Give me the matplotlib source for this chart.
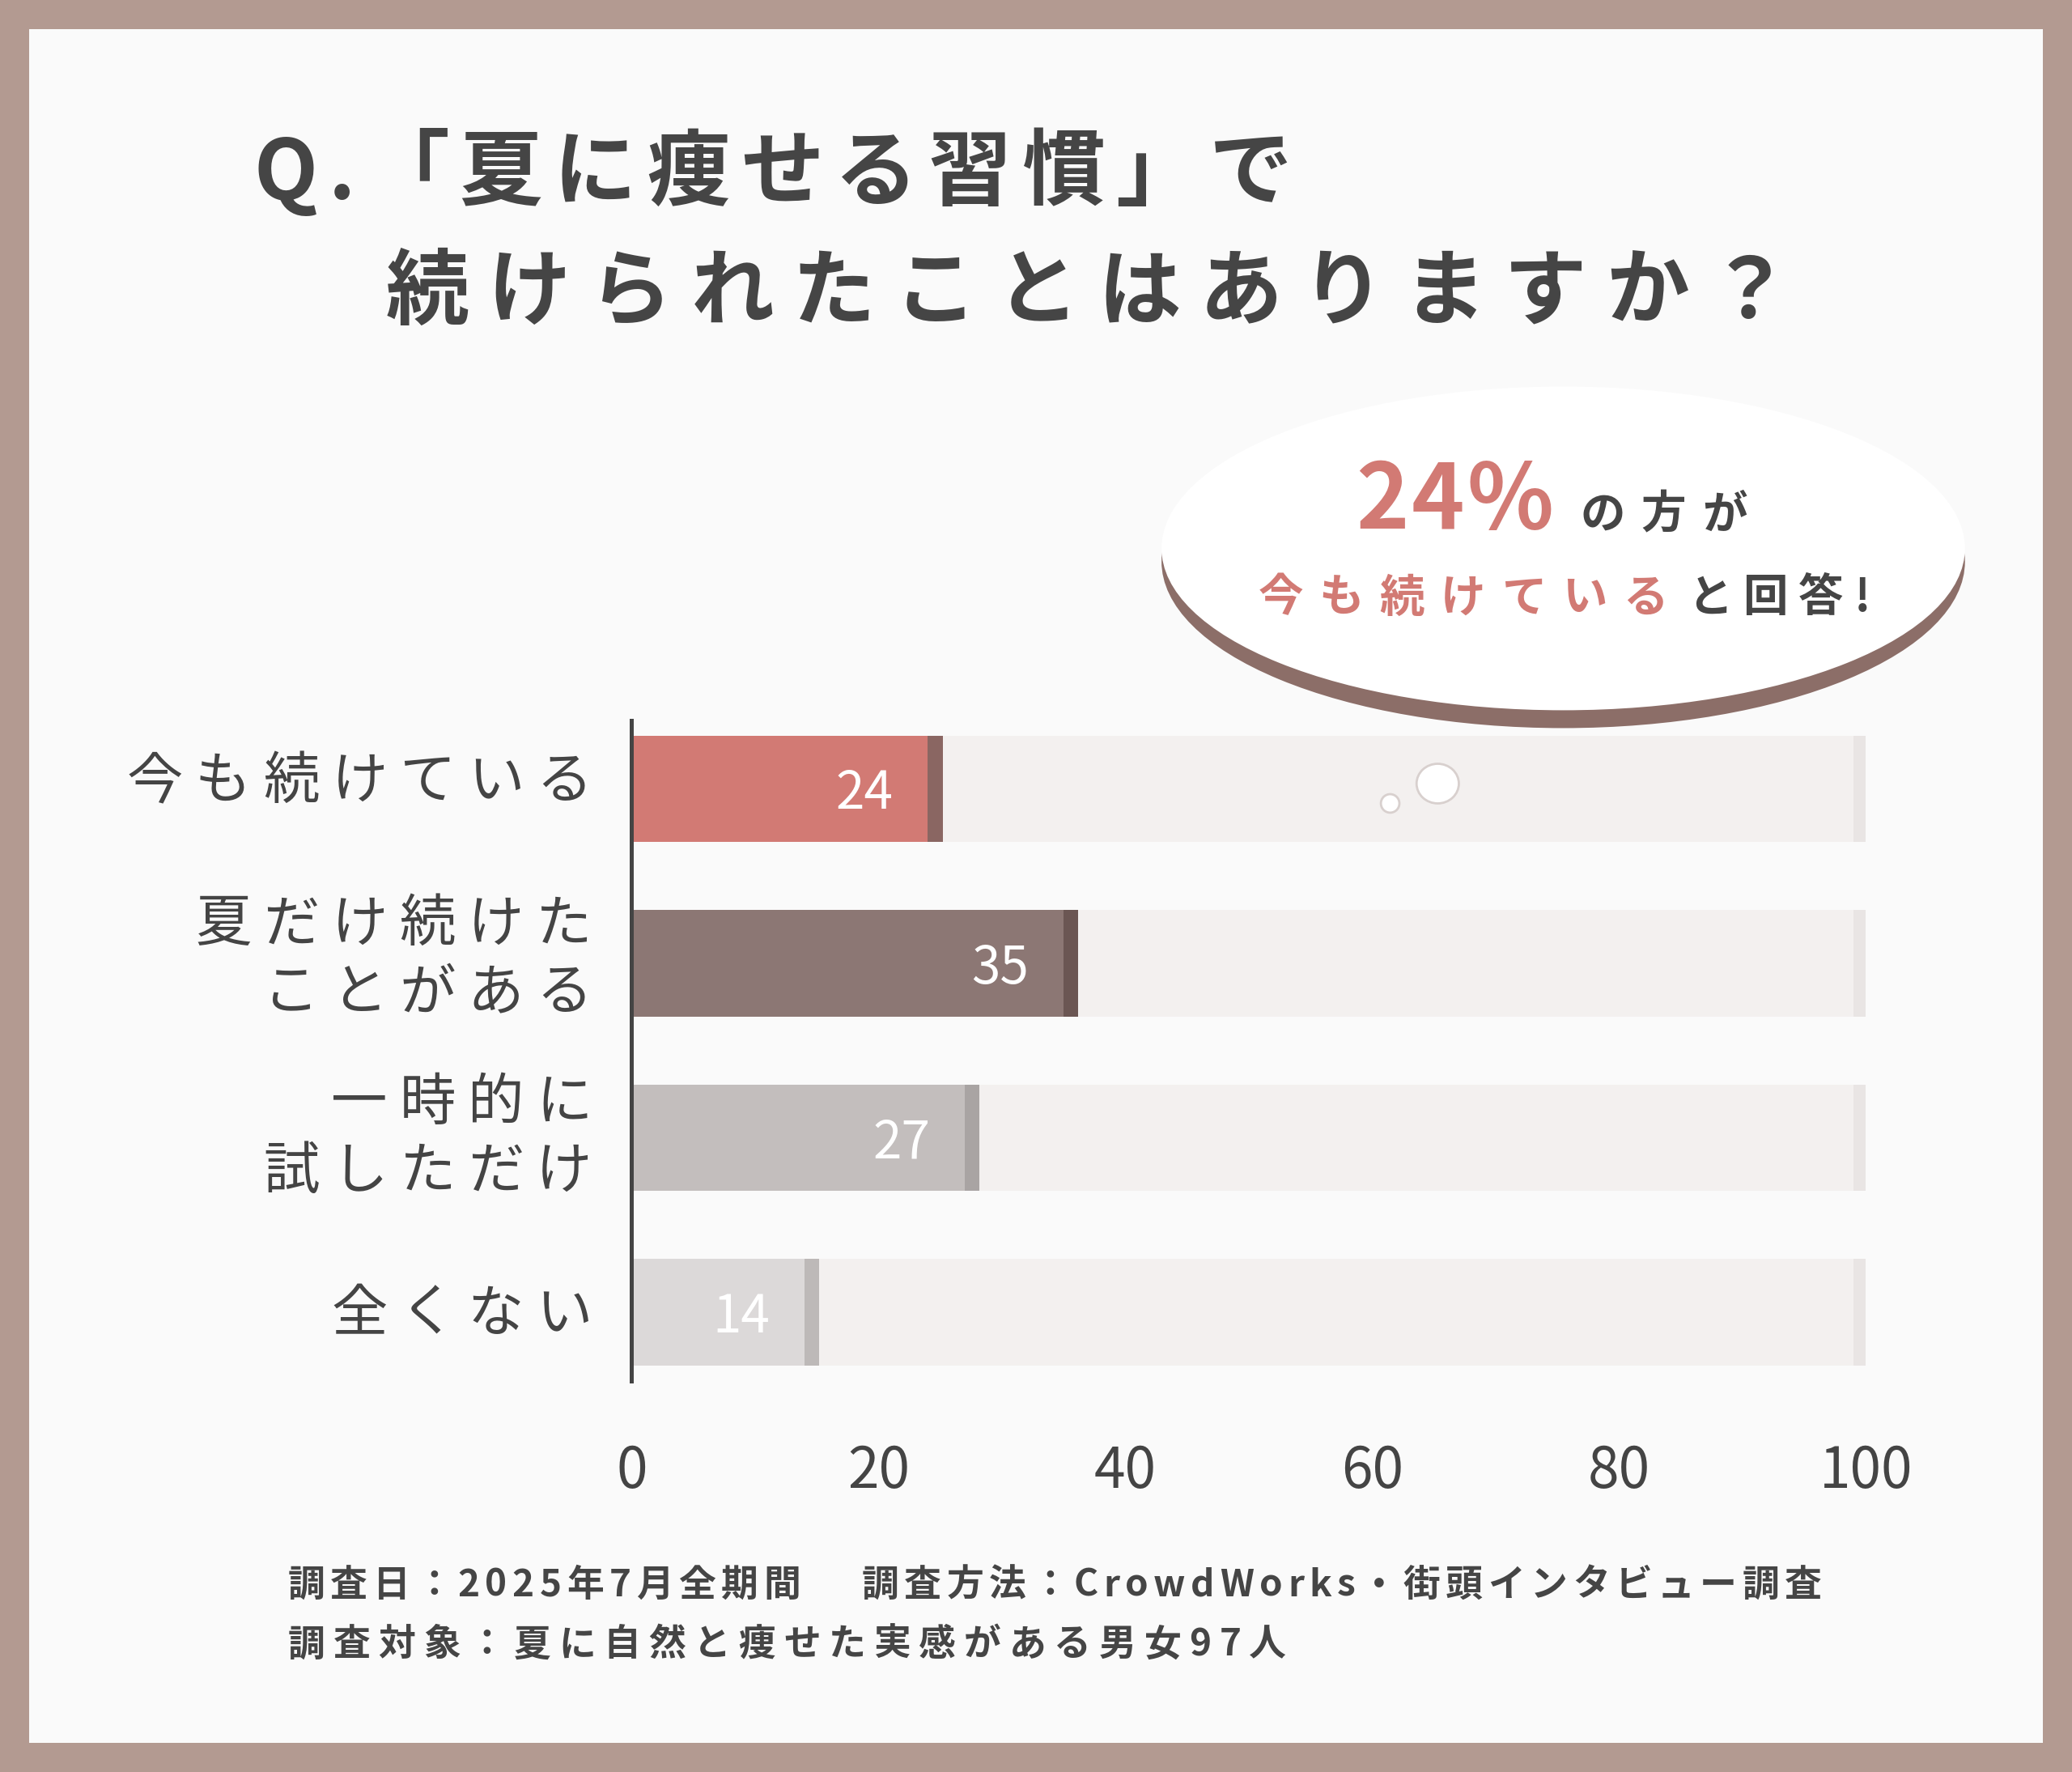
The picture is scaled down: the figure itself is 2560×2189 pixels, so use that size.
import matplotlib
matplotlib.use("Agg")
import matplotlib.pyplot as plt
from matplotlib.patches import Rectangle, Ellipse

categories = ["今も続けている", "夏だけ続けた\nことがある", "一時的に\n試しただけ", "全くない"]
values = [24, 35, 27, 14]
xticks = [0, 20, 40, 60, 80, 100]
colors = ["#d27a74", "#8c7774", "#c3bebd", "#dcd9d9"]
shadows = ["#8a6662", "#6b5653", "#a9a4a3", "#bdb9b8"]

FONT = "Noto Sans CJK JP"
W, H = 1568, 1341
S = 2560 / W
def fx(x): return x / W
def fy(y): return 1 - y / H

fig = plt.figure(figsize=(25.6, 21.89), dpi=100)
fig.patch.set_facecolor("#b39a91")
fig.add_artist(Rectangle((fx(22), fy(1319)), fx(1546) - fx(22), fy(22) - fy(1319),
                         transform=fig.transFigure, facecolor="#fafafa", edgecolor="none", zorder=0))
renderer = fig.canvas.get_renderer()

def char_widths(s, **kw):
    ws = []
    for c in s:
        t = fig.text(0, 0, c, fontfamily=FONT, **kw)
        ws.append(t.get_window_extent(renderer).width / S)
        t.remove()
    return ws

def spaced(x, y, s, track, align="left", **kw):
    ws = char_widths(s, **kw)
    total = sum(ws) + track * (len(s) - 1)
    if align == "right":
        x = x - total
    for c, w in zip(s, ws):
        fig.text(fx(x), fy(y), c, fontfamily=FONT, va="center", ha="left", **kw)
        x += w + track
    return x

# Title
spaced(192, 132, "Q.「夏に痩せる習慣」で", 8, fontweight="bold", fontsize=74, color="#454545")
spaced(292, 222, "続けられたことはありますか？", 14, fontweight="bold", fontsize=74, color="#454545")

# Axes
ax = fig.add_axes([fx(478), fy(1045), fx(1412) - fx(478), fy(545) - fy(1045)])
ax.set_facecolor("none")
ax.set_xlim(0, 100)
ax.set_ylim(3.394, -0.394)
ypos = list(range(len(categories)))
ax.barh(ypos, [100] * 4, height=0.61, color="#e9e5e4", zorder=1)
ax.barh(ypos, [99] * 4, height=0.61, color="#f3f0ef", zorder=1.5)
ax.barh(ypos, [v + 1.2 for v in values], height=0.61, color=shadows, zorder=2)
ax.barh(ypos, values, height=0.61, color=colors, zorder=3)
for y, v in zip(ypos, values):
    ax.text(v - 2.8, y + 0.03, str(v), ha="right", va="center", color="white",
            fontsize=46, fontfamily=FONT, zorder=4)
for s in ["top", "right", "bottom"]:
    ax.spines[s].set_visible(False)
ax.spines["left"].set_linewidth(3.6)
ax.spines["left"].set_color("#444444")
ax.spines["left"].set_zorder(5)
ax.set_xticks(xticks)
ax.set_xticklabels([str(t) for t in xticks], fontsize=50, fontfamily=FONT, color="#444444")
ax.tick_params(axis="x", length=0, pad=55)
ax.set_yticks([])

label_y = [[592], [700, 752], [835, 887], [995]]
for cat, ys in zip(categories, label_y):
    for line, yy in zip(cat.split("\n"), ys):
        spaced(448, yy, line, 9, align="right", fontsize=50, color="#444444")

# Speech bubble
fig.add_artist(Ellipse((fx(1183), fy(425)), fx(1487) - fx(879), fy(300) - fy(552),
                       transform=fig.transFigure, facecolor="#8c6e68", edgecolor="none", zorder=6))
fig.add_artist(Ellipse((fx(1183), fy(415)), fx(1487) - fx(879), fy(295) - fy(540),
                       transform=fig.transFigure, facecolor="white", edgecolor="none", zorder=7))
fig.add_artist(Ellipse((fx(1088), fy(593)), fx(32), fy(578) - fy(608),
                       transform=fig.transFigure, facecolor="white", edgecolor="#d8d0ce", lw=2, zorder=7))
fig.add_artist(Ellipse((fx(1052), fy(608)), fx(14), fy(601) - fy(615),
                       transform=fig.transFigure, facecolor="white", edgecolor="#d8d0ce", lw=2, zorder=7))
for t in [
    dict(x=1026, y=380, s="24%", track=2, fontsize=80, color="#d27a74"),
    dict(x=1196, y=390, s="の方が", track=12, fontsize=40, color="#454545"),
    dict(x=952, y=453, s="今も続けている", track=12, fontsize=40, color="#d27a74"),
    dict(x=1277, y=453, s="と回答!", track=8, fontsize=40, color="#454545"),
]:
    x, y, s_, tr = t.pop("x"), t.pop("y"), t.pop("s"), t.pop("track")
    for c, w in zip(s_, char_widths(s_, fontweight="bold", **t)):
        fig.text(fx(x), fy(y), c, fontfamily=FONT, fontweight="bold", va="center",
                 ha="left", zorder=8, **t)
        x += w + tr

# Footer
spaced(218, 1200, "調査日：2025年7月全期間　 調査方法：CrowdWorks・街頭インタビュー調査", 4,
       fontweight="bold", fontsize=33, color="#454545")
spaced(218, 1245, "調査対象：夏に自然と痩せた実感がある男女97人", 6,
       fontweight="bold", fontsize=33, color="#454545")

fig.savefig("out.png", dpi=100, facecolor=fig.get_facecolor())
